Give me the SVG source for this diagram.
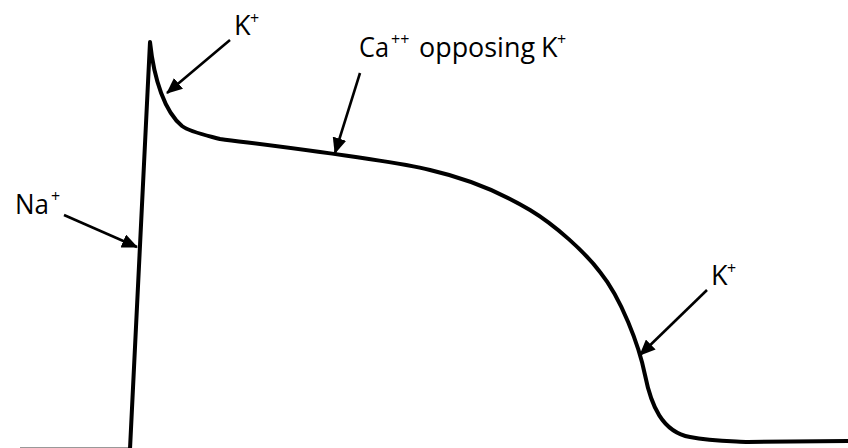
<svg xmlns="http://www.w3.org/2000/svg" width="848" height="448" viewBox="0 0 848 448">
<style>
.curve{fill:none;stroke:#000;stroke-width:4;stroke-linejoin:round;stroke-linecap:round}
.arr{fill:none;stroke:#000;stroke-width:2.6;marker-end:url(#ah)}
.t{font-family:"Open Sans","Liberation Sans",sans-serif;font-size:27px;fill:#000}
.s{font-family:"Open Sans","Liberation Sans",sans-serif;font-size:16px;fill:#000}
</style>
<defs>
<marker id="ah" markerUnits="userSpaceOnUse" markerWidth="16" markerHeight="14" refX="15" refY="7" orient="auto">
<path d="M0,0 L16,7 L0,14 z" fill="#000"/>
</marker>
</defs>
<rect width="848" height="448" fill="#fff"/>
<line x1="20" y1="447.5" x2="131" y2="447.5" stroke="#999" stroke-width="1"/>
<g id="curve">
<path class="curve" d="M130,449 L150,42 C154,80 165,112 182,126 C190,132 205,135 220,139 C290,148 390,160 430,170 C465,178 500,192 530,210 C555,225 585,252 600,272 C621,298 639,345 645,375 C651,405 662,432 690,437 C710,441 730,441 748,442 L849,441"/>
</g>
<g id="connectors">
<line class="arr" x1="64" y1="215" x2="137" y2="247"/>
<line class="arr" x1="230" y1="40" x2="167" y2="93"/>
<line class="arr" x1="360" y1="73" x2="335" y2="153"/>
<line class="arr" x1="707" y1="290" x2="640" y2="355"/>
</g>
<g id="label-na">
<text class="t" x="15" y="214" textLength="34" lengthAdjust="spacingAndGlyphs">Na</text><text class="s" x="51" y="202">+</text>
</g>
<g id="label-k-top">
<text class="t" x="234" y="35">K</text><text class="s" x="250" y="24">+</text>
</g>
<g id="label-ca">
<text class="t" x="359" y="57" textLength="30" lengthAdjust="spacingAndGlyphs">Ca</text><text class="s" x="391" y="45">++</text>
<text class="t" x="419" y="57" textLength="116" lengthAdjust="spacingAndGlyphs">opposing</text>
<text class="t" x="541" y="57">K</text><text class="s" x="557" y="45">+</text>
</g>
<g id="label-k-low">
<text class="t" x="711" y="285">K</text><text class="s" x="727" y="274">+</text>
</g>
</svg>
